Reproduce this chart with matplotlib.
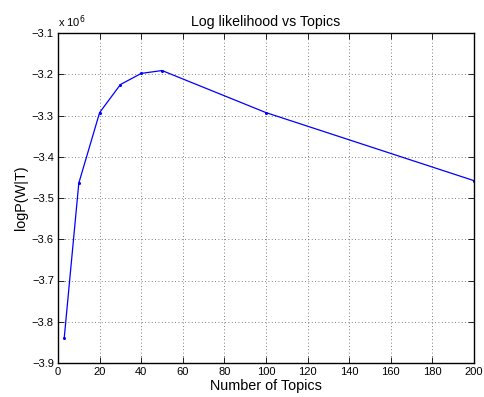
import matplotlib
matplotlib.use("Agg")
import matplotlib.pyplot as plt
import numpy as np

topics = [3, 10, 20, 30, 40, 50, 100, 200]
loglik = [-3.839, -3.464, -3.293, -3.225, -3.198, -3.191, -3.293, -3.458]  # x 1e6
xticks = [0, 20, 40, 60, 80, 100, 120, 140, 160, 180, 200]
yticks = [-3.1, -3.2, -3.3, -3.4, -3.5, -3.6, -3.7, -3.8, -3.9]

plt.rcParams['font.family'] = ['Liberation Sans', 'DejaVu Sans']
plt.rcParams['font.size'] = 8

fig = plt.figure(figsize=(4.85, 3.97), dpi=100)
ax = fig.add_axes([58/485, 1 - 363/397, (474-58)/485, (363-33)/397])

ax.plot(topics, loglik, '-', color='#0000ff', lw=0.9, marker='o', ms=1.2, mec='#0000ff', mfc='#0000ff')
ax.set_xlim(0, 200)
ax.set_ylim(-3.9, -3.1)
ax.set_xticks(xticks)
ax.set_yticks(yticks)
ax.set_yticklabels([("%.1f" % v).replace('-', '\u2212') for v in yticks])
ax.tick_params(direction='in', top=True, right=True, length=4, width=0.6, labelsize=8, pad=3)
ax.grid(True, linestyle=(0, (1, 3)), color='#555555', lw=0.6)
for s in ax.spines.values():
    s.set_linewidth(1.0)

ax.set_title('Log likelihood vs Topics', fontsize=10.2, pad=5)
ax.set_xlabel('Number of Topics', fontsize=10.4, labelpad=1)
ax.set_ylabel('logP(W|T)', fontsize=10.4, labelpad=3)
fig.text(58/485, 1 - 27/397, r'x 10$^{6}$', fontsize=8, ha='left', va='baseline')

fig.savefig('out.png', dpi=100)
